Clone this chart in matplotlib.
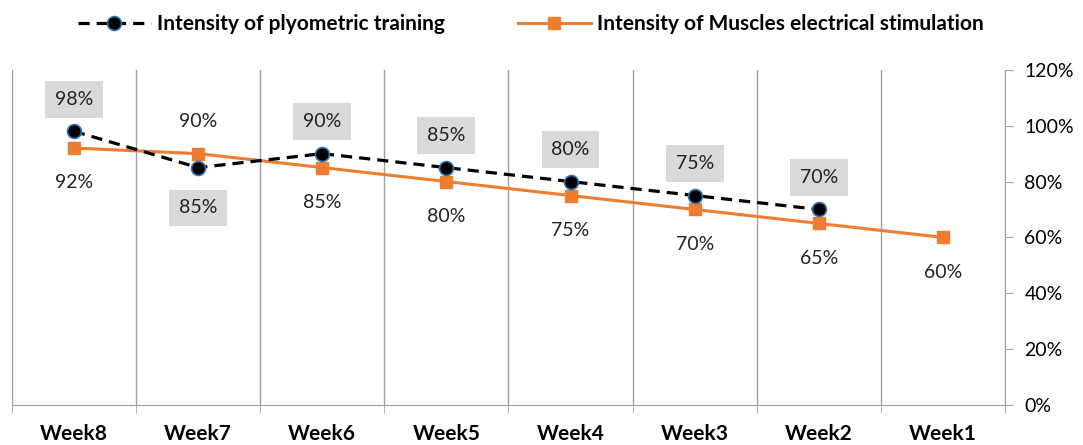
import matplotlib.pyplot as plt
import numpy as np
from matplotlib.ticker import PercentFormatter

plt.rcParams['font.family'] = ['Lato', 'DejaVu Sans']

weeks = ["Week8", "Week7", "Week6", "Week5", "Week4", "Week3", "Week2", "Week1"]
plyo = [98, 85, 90, 85, 80, 75, 70]
ems = [92, 90, 85, 80, 75, 70, 65, 60]
plyo_below = [1]   # index of labels placed under the point
ems_above = [1]

fig = plt.figure(figsize=(10.83, 4.45), dpi=100)
ax = fig.add_axes([0.011, 0.09, 0.917, 0.753])

x = np.arange(len(weeks))
orange = "#ed7d31"

ax.plot(x[:len(plyo)], plyo, ls=(0, (3.5, 2.2)), color="black", lw=2.3,
        marker="o", ms=10, mfc="black", mec="#2e75b6", mew=1.2,
        label="Intensity of plyometric training", zorder=4)
ax.plot(x, ems, color=orange, lw=2.2, marker="s", ms=8.5, mfc=orange, mec=orange,
        label="Intensity of Muscles electrical stimulation", zorder=3)

for i, v in enumerate(plyo):
    dy = -29 if i in plyo_below else 23
    ax.annotate(f"{v}%", (x[i], v), xytext=(0, dy), textcoords="offset points",
                ha="center", va="center", fontsize=14, color="#222222",
                bbox=dict(boxstyle="square,pad=0.5", fc="#d9d9d9", ec="none"))
for i, v in enumerate(ems):
    dy = 23 if i in ems_above else -25
    ax.annotate(f"{v}%", (x[i], v), xytext=(0, dy), textcoords="offset points",
                ha="center", va="center", fontsize=14, color="#222222")

ax.set_xlim(-0.5, len(weeks) - 0.5)
ax.set_ylim(0, 120)
ax.set_xticks(x)
ax.set_xticklabels(weeks, fontsize=15, fontweight="bold")
ax.set_xticks(np.arange(-0.5, len(weeks)), minor=True)
ax.tick_params(axis="x", which="major", length=0, pad=14)
ax.tick_params(axis="x", which="minor", length=6, color="#a0a0a0")
ax.grid(axis="x", which="minor", color="#a0a0a0", lw=1)

ax.yaxis.tick_right()
ax.set_yticks(np.arange(0, 121, 20))
ax.yaxis.set_major_formatter(PercentFormatter(decimals=0))
ax.tick_params(axis="y", length=6, color="#a0a0a0", labelsize=14, pad=8)

for s in ["top", "left"]:
    ax.spines[s].set_visible(False)
for s in ["bottom", "right"]:
    ax.spines[s].set_color("#a0a0a0")

fig.legend(loc="upper center", bbox_to_anchor=(0.49, 1.01), ncol=2, frameon=False,
           prop=dict(size=15, weight="bold"), handlelength=3.5, handletextpad=0.3,
           columnspacing=3.5)

fig.savefig("out.png", dpi=100)
